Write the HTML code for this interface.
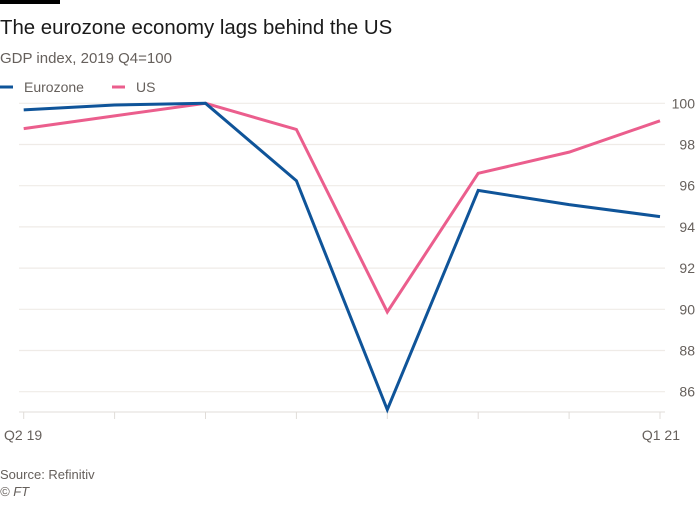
<!DOCTYPE html>
<html><head><meta charset="utf-8"><style>
body{margin:0;background:#fff;width:700px;height:500px;overflow:hidden;font-family:"Liberation Sans",sans-serif;}
svg text{font-family:"Liberation Sans",sans-serif;}
</style></head><body>
<svg id="chart" width="700" height="500">
<rect x="0" y="0" width="60" height="4" fill="#000"/>
<text x="0" y="34" font-size="20.4" fill="#1a1a1a">The eurozone economy lags behind the US</text>
<text x="0" y="63" font-size="15" fill="#66605c">GDP index, 2019 Q4=100</text>
<g>
<g><line x1="0" y1="87" x2="13" y2="87" stroke="#0f5499" stroke-width="3"/><text x="24" y="92" font-size="14" fill="#66605c">Eurozone</text></g>
<g><line x1="112" y1="87" x2="125" y2="87" stroke="#eb5e8d" stroke-width="3"/><text x="136" y="92" font-size="14" fill="#66605c">US</text></g>
</g>
<g id="grid"></g><g id="series"></g>
<text x="0" y="479" font-size="13" fill="#66605c">Source: Refinitiv</text>
<text x="0" y="496" font-size="13" font-style="italic" fill="#66605c">© FT</text>
</svg>
<script>
const categories=["Q2 19","Q3 19","Q4 19","Q1 20","Q2 20","Q3 20","Q4 20","Q1 21"];
const eurozone=[99.68,99.92,100,96.24,85.13,95.77,95.08,94.5];
const us=[98.77,99.39,100,98.73,89.87,96.6,97.63,99.15];
const yTicks=[100,98,96,94,92,90,88,86];
const xLabels=["Q2 19","","","","","","","Q1 21"];
const NS="http://www.w3.org/2000/svg";
const x=i=>23.7+i*90.9;
const y=v=>103.3+(100-v)*20.6;
const grid=document.getElementById('grid'), ser=document.getElementById('series');
function mk(tag,at,parent){const e=document.createElementNS(NS,tag);for(const k in at)e.setAttribute(k,at[k]);parent.appendChild(e);return e;}
yTicks.forEach(t=>{
  const l=mk('line',{x1:19,x2:665,y1:y(t),y2:y(t),stroke:'#efebe7','stroke-width':1.2},grid);
  
  
  const tx=mk('text',{x:695,y:y(t)+5,'font-size':14,fill:'#66605c','text-anchor':'end'},grid);
  tx.textContent=t;
  
  
});
const base=mk('line',{x1:19,x2:665,y1:412,y2:412,stroke:'#e0dcd8','stroke-width':1},grid);


categories.forEach((c,i)=>{
  const t=mk('line',{x1:x(i),x2:x(i),y1:412,y2:419,stroke:'#e0dcd8','stroke-width':1},grid);
  
  
  if(xLabels[i]){
    const tx=mk('text',{x:i===0?4:680,y:440,'font-size':14,fill:'#66605c','text-anchor':i===0?'start':'end'},grid);
    tx.textContent=xLabels[i];
    
    
  }
});
function line(vals,color,name){
  const p=mk('polyline',{points:vals.map((v,i)=>x(i)+','+y(v)).join(' '),fill:'none',stroke:color,'stroke-width':3,'stroke-linejoin':'miter'},ser);
  
  
}
line(us,'#eb5e8d','us-line');
line(eurozone,'#0f5499','eurozone-line');
</script>
</body></html>
